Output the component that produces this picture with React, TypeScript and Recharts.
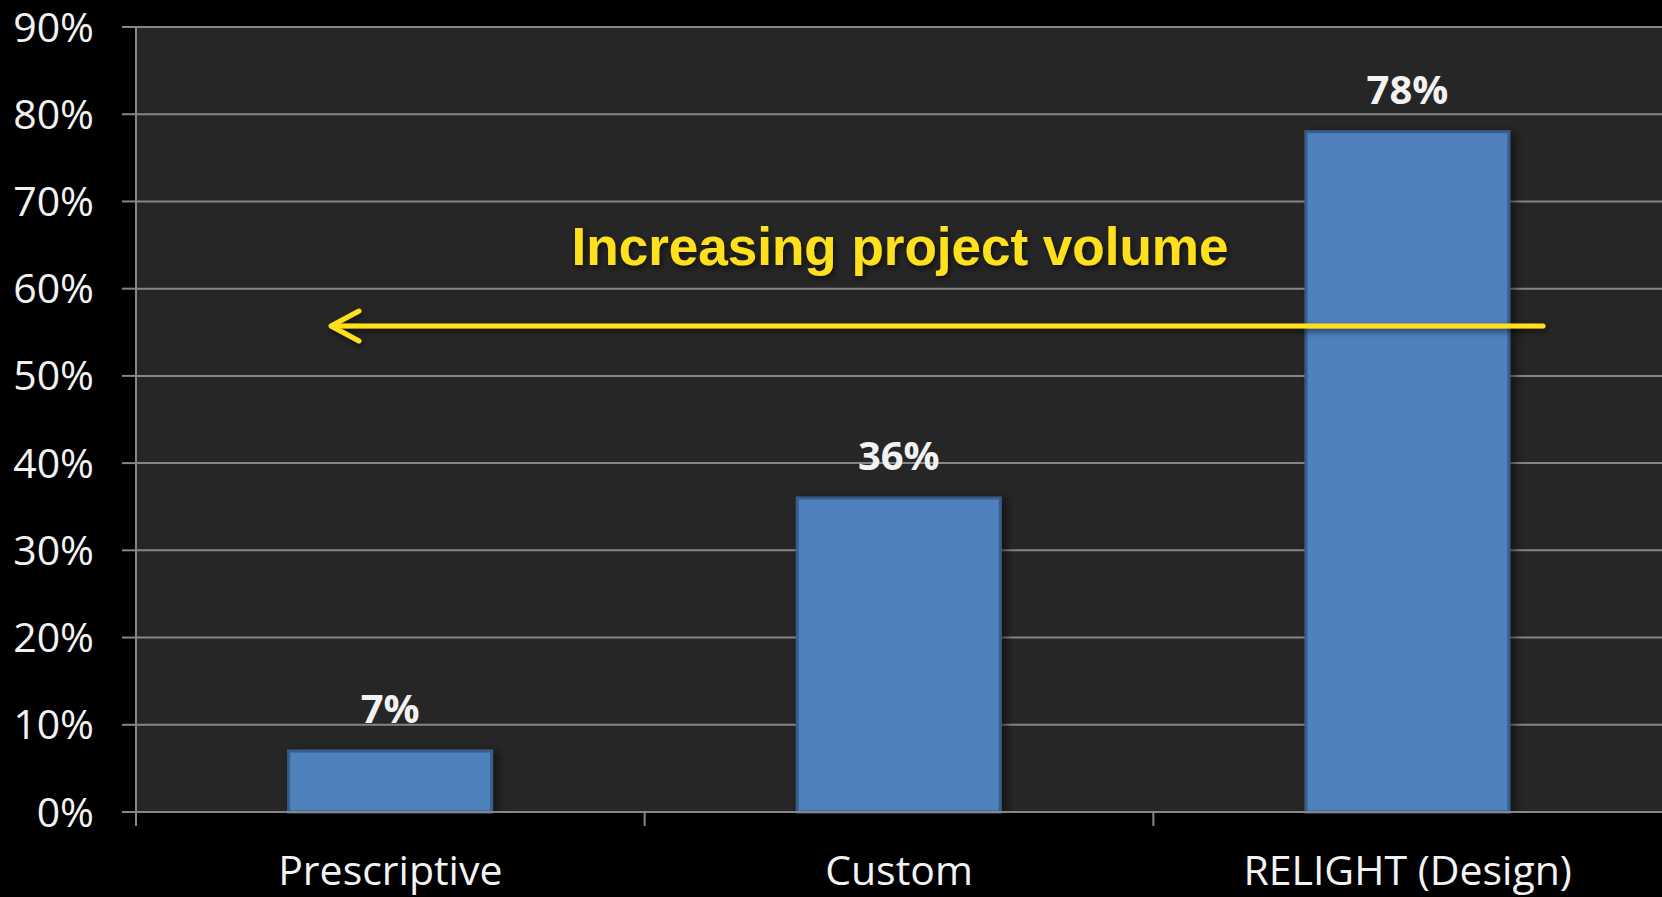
import React from 'react';
import { BarChart, Bar, XAxis, YAxis, CartesianGrid, LabelList } from 'recharts';

const categories = ['Prescriptive', 'Custom', 'RELIGHT (Design)'];
const shares = [7, 36, 78];
const yTicks = [0, 10, 20, 30, 40, 50, 60, 70, 80, 90];
const annotation = 'Increasing project volume';

const data = categories.map((name, i) => ({ name, value: shares[i] }));

const W = 1662;
const H = 897;
const Y_W = 136;
const X_H = 85;
const band = (W - Y_W) / categories.length;
const GRID = '#868686';
const TEXT = '#f2f2f2';
const YELLOW = '#FFE01A';

function XTick(props: any) {
    const { x, y, payload } = props;
    return (
        <g>
            <line x1={x - band / 2} x2={x - band / 2} y1={y} y2={y + 14} stroke={GRID} strokeWidth={2} />
            <text x={x} y={y + 73} textAnchor="middle" fill={TEXT} fontSize={41} fontFamily="'Open Sans', sans-serif">
                {payload.value}
            </text>
        </g>
    );
}

export default function App() {
    return (
        <div style={{ position: 'absolute', left: 0, top: 0, width: W, height: H, background: '#000', fontFamily: "'Open Sans', sans-serif" }}>
            <BarChart width={W} height={H} data={data} margin={{ top: 27, right: 0, left: 0, bottom: 0 }} barCategoryGap="30%">
                <defs>
                    <filter id="barShadow" x="-20%" y="-20%" width="140%" height="140%">
                        <feDropShadow dx={5} dy={2} stdDeviation={5} floodColor="#000" floodOpacity={0.5} />
                    </filter>
                </defs>
                <CartesianGrid vertical={false} fill="#262626" stroke={GRID} strokeWidth={2} />
                <XAxis
                    dataKey="name"
                    height={X_H}
                    axisLine={{ stroke: GRID, strokeWidth: 2 }}
                    tickLine={false}
                    tickSize={0}
                    tickMargin={0}
                    interval={0}
                    tick={<XTick />}
                />
                <YAxis
                    width={Y_W}
                    domain={[0, 90]}
                    ticks={yTicks}
                    interval={0}
                    tickFormatter={(v: number) => `${v}%`}
                    axisLine={{ stroke: GRID, strokeWidth: 2 }}
                    tickLine={{ stroke: GRID, strokeWidth: 2 }}
                    tickSize={14}
                    tickMargin={28}
                    tick={{ fill: TEXT, fontSize: 41 }}
                />
                <Bar dataKey="value" fill="#4F81BD" stroke="#385D8A" strokeWidth={3} isAnimationActive={false} style={{ filter: 'url(#barShadow)' }}>
                    <LabelList
                        dataKey="value"
                        position="top"
                        offset={28}
                        formatter={(v: any) => `${v}%`}
                        fill={TEXT}
                        fontSize={40}
                        fontWeight="bold"
                    />
                </Bar>
            </BarChart>
            <svg width={W} height={H} style={{ position: 'absolute', left: 0, top: 0, pointerEvents: 'none' }}>
                <defs>
                    <filter id="annShadow" x="-5%" y="-50%" width="110%" height="200%">
                        <feDropShadow dx={2} dy={3} stdDeviation={3} floodColor="#000" floodOpacity={0.6} />
                    </filter>
                </defs>
                <text x={900} y={265} textAnchor="middle" fill={YELLOW} fontSize={53} fontWeight="bold" fontFamily="'Liberation Sans', Arial, sans-serif" filter="url(#annShadow)">
                    {annotation}
                </text>
                <g stroke={YELLOW} strokeWidth={5} strokeLinecap="round" strokeLinejoin="round" fill="none" filter="url(#annShadow)">
                    <line x1={1543} y1={326} x2={332} y2={326} />
                    <polyline points="359,311 331,326 359,341" />
                </g>
            </svg>
        </div>
    );
}
